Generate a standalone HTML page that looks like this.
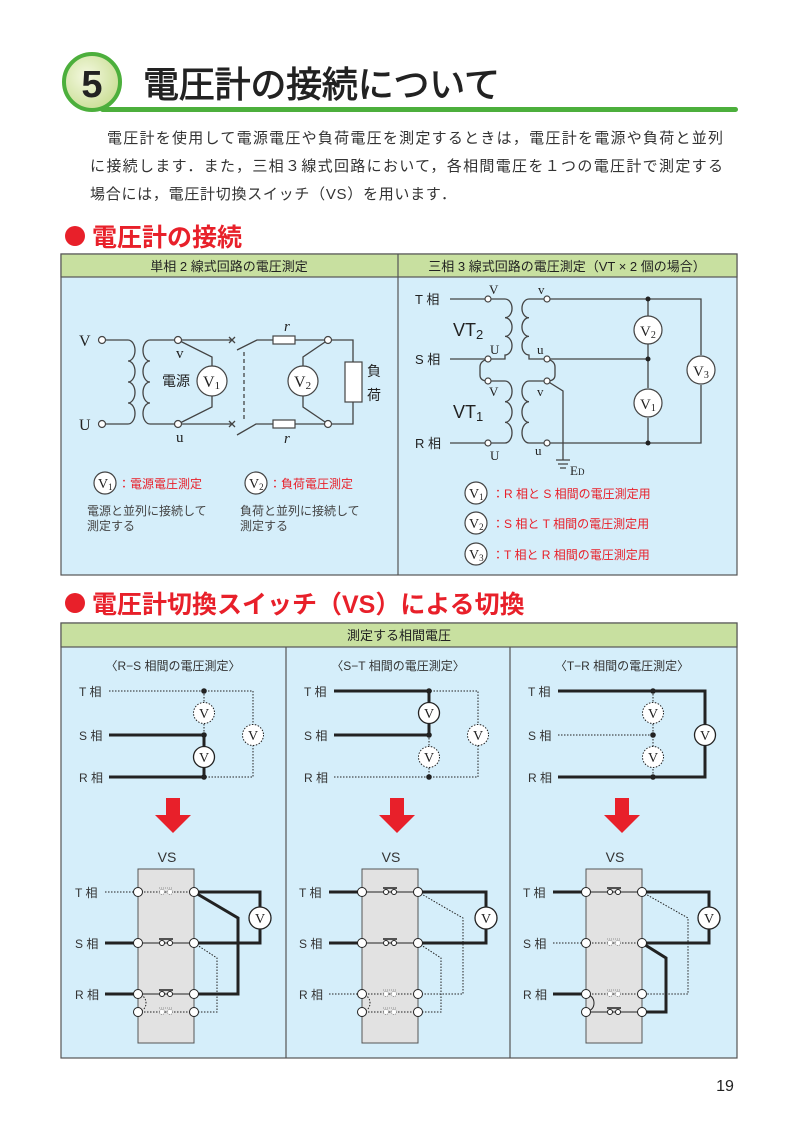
<!DOCTYPE html>
<html><head><meta charset="utf-8"><style>
html,body{margin:0;padding:0;background:#fff}
svg{display:block}
.s{font-family:"Liberation Sans","Noto Sans CJK JP",sans-serif}
.r{font-family:"Liberation Serif","Noto Serif CJK SC",serif}
</style></head><body>
<svg width="794" height="1123" viewBox="0 0 794 1123" xmlns="http://www.w3.org/2000/svg">
<defs>
<radialGradient id="cg" cx="0.4" cy="0.4" r="0.7"><stop offset="0" stop-color="#f4f8e0"/><stop offset="1" stop-color="#c6dc8e"/></radialGradient>
</defs>
<!-- header -->
<rect x="100" y="107" width="638" height="5" rx="2.5" fill="#4caf3c"/>
<circle cx="92" cy="82" r="28" fill="url(#cg)" stroke="#4caf3c" stroke-width="4"/>
<text x="92" y="97" text-anchor="middle" class="s" font-size="38" font-weight="bold" fill="#222">5</text>
<text x="143" y="97" class="s" font-size="36" fill="#222" stroke="#222" stroke-width="0.9" textLength="357">電圧計の接続について</text>
<g class="s" font-size="15" fill="#333">
<text x="107" y="143" textLength="616">電圧計を使用して電源電圧や負荷電圧を測定するときは，電圧計を電源や負荷と並列</text>
<text x="90" y="171" textLength="633">に接続します．また，三相３線式回路において，各相間電圧を１つの電圧計で測定する</text>
<text x="90" y="199" textLength="366">場合には，電圧計切換スイッチ（VS）を用います．</text>
</g>
<!-- section 1 -->
<circle cx="75" cy="236" r="10" fill="#e8202a"/>
<text x="92" y="246" class="s" font-size="25" font-weight="bold" fill="#e8202a">電圧計の接続</text>
<rect x="61" y="254" width="676" height="321" fill="#d5eefa" stroke="#555" stroke-width="1.2"/>
<rect x="61" y="254" width="676" height="23" fill="#c8e0a0" stroke="#555" stroke-width="1.2"/>
<line x1="398" y1="254" x2="398" y2="575" stroke="#555" stroke-width="1.2"/>
<text x="229" y="271" text-anchor="middle" class="s" font-size="13" fill="#222">単相 2 線式回路の電圧測定</text>
<text x="567" y="271" text-anchor="middle" class="s" font-size="13" fill="#222">三相 3 線式回路の電圧測定（VT × 2 個の場合）</text>

<!-- left circuit -->
<g fill="none" stroke="#444" stroke-width="1.3">
<path d="M102 340 H128 a7 10.5 0 0 1 0 21 a7 10.5 0 0 1 0 21 a7 10.5 0 0 1 0 21 a7 10.5 0 0 1 0 21 H102"/>
<path d="M178 340 H150 a7 10.5 0 0 0 0 21 a7 10.5 0 0 0 0 21 a7 10.5 0 0 0 0 21 a7 10.5 0 0 0 0 21 H178"/>
<path d="M178 340 L212 357 V366 M212 396 V407 L178 424"/>
<path d="M178 340 H231 M178 424 H231"/>
<path d="M229 337 l6 6 M235 337 l-6 6 M229 421 l6 6 M235 421 l-6 6"/>
<path d="M237 350 L257 340 H273 M295 340 H328 M237 435 L256 424 H273 M295 424 H328"/>
<path d="M244 352 V420" stroke-dasharray="4 3"/>
<path d="M328 340 H353 V362 M353 402 V424 H328"/>
<path d="M328 340 L303 357 V366 M303 396 V407 L328 424"/>
</g>
<rect x="273" y="336" width="22" height="8" fill="#fff" stroke="#444" stroke-width="1.2"/>
<rect x="273" y="420" width="22" height="8" fill="#fff" stroke="#444" stroke-width="1.2"/>
<rect x="345" y="362" width="17" height="40" fill="#fff" stroke="#444" stroke-width="1.2"/>
<g fill="#fff" stroke="#444" stroke-width="1.2">
<circle cx="102" cy="340" r="3.5"/><circle cx="102" cy="424" r="3.5"/>
<circle cx="178" cy="340" r="3.5"/><circle cx="178" cy="424" r="3.5"/>
<circle cx="328" cy="340" r="3.5"/><circle cx="328" cy="424" r="3.5"/>
<circle cx="212" cy="381" r="15"/><circle cx="303" cy="381" r="15"/>
</g>
<g class="r" fill="#222">
<text x="79" y="346" font-size="16">V</text><text x="79" y="430" font-size="16">U</text>
<text x="176" y="358" font-size="15">v</text><text x="176" y="442" font-size="15">u</text>
<text x="284" y="331" font-size="15" font-style="italic">r</text><text x="284" y="443" font-size="15" font-style="italic">r</text>
<text x="203" y="387" font-size="16">V<tspan font-size="11" dy="2">1</tspan></text>
<text x="294" y="387" font-size="16">V<tspan font-size="11" dy="2">2</tspan></text>
</g>
<g class="s" fill="#222" font-size="14">
<text x="162" y="386">電源</text><text x="367" y="376">負</text><text x="367" y="400">荷</text>
</g>
<!-- legend left -->
<g fill="#fff" stroke="#444" stroke-width="1.2"><circle cx="105" cy="483" r="11"/><circle cx="256" cy="483" r="11"/></g>
<g class="r" fill="#222" font-size="14"><text x="98" y="488">V<tspan font-size="9" dy="2">1</tspan></text><text x="249" y="488">V<tspan font-size="9" dy="2">2</tspan></text></g>
<g class="s" font-size="12">
<text x="118" y="488" fill="#e8202a">：電源電圧測定</text>
<text x="269" y="488" fill="#e8202a">：負荷電圧測定</text>
<text x="87" y="515" fill="#444">電源と並列に接続して</text><text x="87" y="530" fill="#444">測定する</text>
<text x="240" y="515" fill="#444">負荷と並列に接続して</text><text x="240" y="530" fill="#444">測定する</text>
</g>

<!-- right circuit -->
<g fill="none" stroke="#444" stroke-width="1.3">
<path d="M450 299 H488 M450 359 H488 M450 443 H488"/>
<path d="M488 299 H505 a7 9.3 0 0 1 0 18.7 a7 9.3 0 0 1 0 18.7 a7 9.3 0 0 1 0 18.6 V359 H488"/>
<path d="M547 299 H529 a7 9.3 0 0 0 0 18.7 a7 9.3 0 0 0 0 18.7 a7 9.3 0 0 0 0 18.6 V359 H547"/>
<path d="M488 381 H505 a7 10.3 0 0 1 0 20.7 a7 10.3 0 0 1 0 20.7 a7 10.3 0 0 1 0 20.6 H488"/>
<path d="M547 381 H529 a7 10.3 0 0 0 0 20.7 a7 10.3 0 0 0 0 20.7 a7 10.3 0 0 0 0 20.6 H547"/>
<path d="M488 359 Q480 361 480 367 V375 Q480 381 488 381"/>
<path d="M547 359 Q555 361 555 367 V375 Q555 381 547 381"/>
<path d="M547 381 L563 391 V460"/>
<path d="M556 460 H570 M558 464 H568 M560 468 H566"/>
<path d="M547 299 H701 V355 M701 385 V443 H547 M547 359 H648"/>
<path d="M648 299 V316 M648 344 V388 M648 418 V443"/>
</g>
<g fill="#222"><circle cx="648" cy="299" r="2.5"/><circle cx="648" cy="359" r="2.5"/><circle cx="648" cy="443" r="2.5"/></g>
<g fill="#fff" stroke="#444" stroke-width="1.2">
<circle cx="488" cy="299" r="3"/><circle cx="488" cy="359" r="3"/><circle cx="488" cy="381" r="3"/><circle cx="488" cy="443" r="3"/>
<circle cx="547" cy="299" r="3"/><circle cx="547" cy="359" r="3"/><circle cx="547" cy="381" r="3"/><circle cx="547" cy="443" r="3"/>
<circle cx="648" cy="330" r="14"/><circle cx="648" cy="403" r="14"/><circle cx="701" cy="370" r="14"/>
</g>
<g class="r" fill="#222" font-size="13">
<text x="489" y="294">V</text><text x="538" y="294">v</text>
<text x="490" y="354">U</text><text x="537" y="354">u</text>
<text x="489" y="396">V</text><text x="537" y="396">v</text>
<text x="490" y="460">U</text><text x="535" y="455">u</text>
<text x="570" y="475">E<tspan font-size="9">D</tspan></text>
<text x="640" y="336" font-size="15">V<tspan font-size="10" dy="2">2</tspan></text>
<text x="640" y="409" font-size="15">V<tspan font-size="10" dy="2">1</tspan></text>
<text x="693" y="376" font-size="15">V<tspan font-size="10" dy="2">3</tspan></text>
</g>
<g class="s" fill="#222">
<text x="415" y="304" font-size="13">T 相</text><text x="415" y="364" font-size="13">S 相</text><text x="415" y="448" font-size="13">R 相</text>
<text x="453" y="336" font-size="18">VT<tspan font-size="13" dy="3">2</tspan></text>
<text x="453" y="418" font-size="18">VT<tspan font-size="13" dy="3">1</tspan></text>
</g>
<g fill="#fff" stroke="#444" stroke-width="1.2"><circle cx="476" cy="493" r="11"/><circle cx="476" cy="523" r="11"/><circle cx="476" cy="554" r="11"/></g>
<g class="r" fill="#222" font-size="14"><text x="469" y="498">V<tspan font-size="9" dy="2">1</tspan></text><text x="469" y="528">V<tspan font-size="9" dy="2">2</tspan></text><text x="469" y="559">V<tspan font-size="9" dy="2">3</tspan></text></g>
<g class="s" font-size="12" fill="#e8202a">
<text x="492" y="498">：R 相と S 相間の電圧測定用</text>
<text x="492" y="528">：S 相と T 相間の電圧測定用</text>
<text x="492" y="559">：T 相と R 相間の電圧測定用</text>
</g>

<!-- section 2 -->
<circle cx="75" cy="603" r="10" fill="#e8202a"/>
<text x="92" y="613" class="s" font-size="25" font-weight="bold" fill="#e8202a">電圧計切換スイッチ（VS）による切換</text>
<rect x="61" y="623" width="676" height="435" fill="#d5eefa" stroke="#555" stroke-width="1.2"/>
<rect x="61" y="623" width="676" height="24" fill="#c8e0a0" stroke="#555" stroke-width="1.2"/>
<line x1="286" y1="647" x2="286" y2="1058" stroke="#555" stroke-width="1.2"/>
<line x1="510" y1="647" x2="510" y2="1058" stroke="#555" stroke-width="1.2"/>
<text x="399" y="640" text-anchor="middle" class="s" font-size="13" fill="#222">測定する相間電圧</text>
<g class="s" font-size="12" fill="#333" text-anchor="middle">
<text x="173" y="670">〈R−S 相間の電圧測定〉</text>
<text x="398" y="670">〈S−T 相間の電圧測定〉</text>
<text x="622" y="670">〈T−R 相間の電圧測定〉</text>
<text x="167" y="862" font-size="14">VS</text><text x="391" y="862" font-size="14">VS</text><text x="615" y="862" font-size="14">VS</text>
</g>
<g class="s" font-size="12" fill="#333">
<text x="79" y="696">T 相</text><text x="79" y="740">S 相</text><text x="79" y="782">R 相</text>
<text x="304" y="696">T 相</text><text x="304" y="740">S 相</text><text x="304" y="782">R 相</text>
<text x="528" y="696">T 相</text><text x="528" y="740">S 相</text><text x="528" y="782">R 相</text>
<text x="75" y="897">T 相</text><text x="75" y="948">S 相</text><text x="75" y="999">R 相</text>
<text x="299" y="897">T 相</text><text x="299" y="948">S 相</text><text x="299" y="999">R 相</text>
<text x="523" y="897">T 相</text><text x="523" y="948">S 相</text><text x="523" y="999">R 相</text>
</g>
<!-- top schematic panels -->
<g fill="none" stroke="#222">
<path d="M109 691 H253 V777 H204 M204 691 V777" stroke-width="1" stroke-dasharray="1.5 1.5"/>
<path d="M109 735 H204 V777 H109" stroke-width="3"/>
<path d="M334 777 H478 V691 H429 M429 735 V777" stroke-width="1" stroke-dasharray="1.5 1.5"/>
<path d="M334 691 H429 V735 H334" stroke-width="3"/>
<path d="M558 735 H653 M653 691 V777" stroke-width="1" stroke-dasharray="1.5 1.5"/>
<path d="M558 691 H705 V777 H558" stroke-width="3"/>
</g>
<g fill="#222">
<circle cx="204" cy="691" r="2.8"/><circle cx="204" cy="735" r="2.8"/><circle cx="204" cy="777" r="2.8"/>
<circle cx="429" cy="691" r="2.8"/><circle cx="429" cy="735" r="2.8"/><circle cx="429" cy="777" r="2.8"/>
<circle cx="653" cy="691" r="2.8"/><circle cx="653" cy="735" r="2.8"/><circle cx="653" cy="777" r="2.8"/>
</g>
<g fill="#fff" stroke="#222" stroke-width="1">
<circle cx="204" cy="713" r="10.5" stroke-dasharray="1.5 1.5"/><circle cx="204" cy="757" r="10.5" stroke-width="1.3"/><circle cx="253" cy="735" r="10.5" stroke-dasharray="1.5 1.5"/>
<circle cx="429" cy="713" r="10.5" stroke-width="1.3"/><circle cx="429" cy="757" r="10.5" stroke-dasharray="1.5 1.5"/><circle cx="478" cy="735" r="10.5" stroke-dasharray="1.5 1.5"/>
<circle cx="653" cy="713" r="10.5" stroke-dasharray="1.5 1.5"/><circle cx="653" cy="757" r="10.5" stroke-dasharray="1.5 1.5"/><circle cx="705" cy="735" r="10.5" stroke-width="1.3"/>
</g>
<g class="r" font-size="14" fill="#222" text-anchor="middle">
<text x="204" y="718">V</text><text x="204" y="762">V</text><text x="253" y="740">V</text>
<text x="429" y="718">V</text><text x="429" y="762">V</text><text x="478" y="740">V</text>
<text x="653" y="718">V</text><text x="653" y="762">V</text><text x="705" y="740">V</text>
</g>
<!-- arrows -->
<g fill="#e8202a">
<path d="M166 798 H180 V815 H191 L173 833 L155 815 H166 Z"/>
<path d="M390 798 H404 V815 H415 L397 833 L379 815 H390 Z"/>
<path d="M615 798 H629 V815 H640 L622 833 L604 815 H615 Z"/>
</g>

<!-- VS boxes -->
<g fill="#e2e2e2" stroke="#555" stroke-width="1">
<rect x="138" y="869" width="56" height="174"/>
<rect x="362" y="869" width="56" height="174"/>
<rect x="586" y="869" width="56" height="174"/>
</g>
<g fill="none" stroke="#222">
<path d="M105 892 H194 M138 1012 H194 M194 943 L217 958 V1012 H194 M138 994 Q146 996 146 1003 Q146 1010 138 1012" stroke-width="1" stroke-dasharray="1.5 1.5"/>
<path d="M138 943 H194 M138 994 H194" stroke-width="1"/>
<path d="M105 943 H138 M105 994 H138 M194 892 H260 V907 M260 929 V943 H194 M194 892 L238 918 V994 H194" stroke-width="3"/>
</g>
<g fill="none" stroke="#222">
<path d="M329 994 H418 M362 1012 H418 M418 892 L463 918 V994 H418 M418 943 L441 958 V1012 H418 M362 994 Q370 996 370 1003 Q370 1010 362 1012" stroke-width="1" stroke-dasharray="1.5 1.5"/>
<path d="M362 892 H418 M362 943 H418" stroke-width="1"/>
<path d="M329 892 H362 M329 943 H362 M418 892 H486 V907 M486 929 V943 H418" stroke-width="3"/>
</g>
<g fill="none" stroke="#222">
<path d="M553 943 H642 M586 994 H642 M642 892 L688 918 V994 H642" stroke-width="1" stroke-dasharray="1.5 1.5"/>
<path d="M586 892 H642 M586 1012 H642 M586 994 Q594 996 594 1003 Q594 1010 586 1012" stroke-width="1"/>
<path d="M553 892 H586 M553 994 H586 M642 892 H709 V907 M709 929 V943 H642 M642 943 L666 958 V1012 H642" stroke-width="3"/>
</g>
<g fill="#fff" stroke="#222" stroke-width="1">
<circle cx="162" cy="943" r="2.5"/><circle cx="170" cy="943" r="2.5"/><circle cx="162" cy="994" r="2.5"/><circle cx="170" cy="994" r="2.5"/>
<circle cx="386" cy="892" r="2.5"/><circle cx="394" cy="892" r="2.5"/><circle cx="386" cy="943" r="2.5"/><circle cx="394" cy="943" r="2.5"/>
<circle cx="610" cy="892" r="2.5"/><circle cx="618" cy="892" r="2.5"/><circle cx="610" cy="1012" r="2.5"/><circle cx="618" cy="1012" r="2.5"/>
</g>
<g stroke="#222" stroke-width="1.5">
<path d="M159 939 H173 M159 990 H173 M383 888 H397 M383 939 H397 M607 888 H621 M607 1008 H621"/>
</g>
<g fill="#fff" stroke="#777" stroke-width="0.8" stroke-dasharray="1 1">
<circle cx="162" cy="892" r="2.5"/><circle cx="170" cy="892" r="2.5"/><circle cx="162" cy="1012" r="2.5"/><circle cx="170" cy="1012" r="2.5"/>
<circle cx="386" cy="994" r="2.5"/><circle cx="394" cy="994" r="2.5"/><circle cx="386" cy="1012" r="2.5"/><circle cx="394" cy="1012" r="2.5"/>
<circle cx="610" cy="943" r="2.5"/><circle cx="618" cy="943" r="2.5"/><circle cx="610" cy="994" r="2.5"/><circle cx="618" cy="994" r="2.5"/>
<path d="M159 888 H173 M159 1008 H173 M383 990 H397 M383 1008 H397 M607 939 H621 M607 990 H621"/>
</g>
<g fill="#fff" stroke="#222" stroke-width="1">
<circle cx="138" cy="892" r="4.5"/><circle cx="138" cy="943" r="4.5"/><circle cx="138" cy="994" r="4.5"/><circle cx="138" cy="1012" r="4.5"/>
<circle cx="194" cy="892" r="4.5"/><circle cx="194" cy="943" r="4.5"/><circle cx="194" cy="994" r="4.5"/><circle cx="194" cy="1012" r="4.5"/>
<circle cx="362" cy="892" r="4.5"/><circle cx="362" cy="943" r="4.5"/><circle cx="362" cy="994" r="4.5"/><circle cx="362" cy="1012" r="4.5"/>
<circle cx="418" cy="892" r="4.5"/><circle cx="418" cy="943" r="4.5"/><circle cx="418" cy="994" r="4.5"/><circle cx="418" cy="1012" r="4.5"/>
<circle cx="586" cy="892" r="4.5"/><circle cx="586" cy="943" r="4.5"/><circle cx="586" cy="994" r="4.5"/><circle cx="586" cy="1012" r="4.5"/>
<circle cx="642" cy="892" r="4.5"/><circle cx="642" cy="943" r="4.5"/><circle cx="642" cy="994" r="4.5"/><circle cx="642" cy="1012" r="4.5"/>
<circle cx="260" cy="918" r="11" stroke-width="1.3"/><circle cx="486" cy="918" r="11" stroke-width="1.3"/><circle cx="709" cy="918" r="11" stroke-width="1.3"/>
</g>
<g class="r" font-size="14" fill="#222" text-anchor="middle">
<text x="260" y="923">V</text><text x="486" y="923">V</text><text x="709" y="923">V</text>
</g>
<text x="725" y="1091" text-anchor="middle" class="s" font-size="16" fill="#222">19</text>
</svg>
</body></html>
